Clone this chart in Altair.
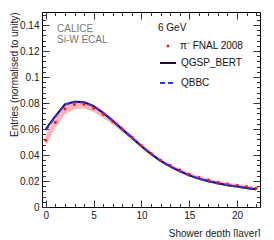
import altair as alt
import pandas as pd

# ---------------- data ----------------
layers = list(range(23))
data_vals = [0.0512, 0.0650, 0.0754, 0.0787, 0.0788, 0.0758, 0.0712, 0.0655,
             0.0600, 0.0538, 0.0472, 0.0412, 0.0360, 0.0320, 0.0286, 0.0252,
             0.0228, 0.0208, 0.0190, 0.0177, 0.0167, 0.0156, 0.0144]
data_err = [0.0040, 0.0040, 0.0040, 0.0035, 0.0030, 0.0028, 0.0025, 0.0022,
            0.0020, 0.0018, 0.0016, 0.0014, 0.0012, 0.0011, 0.0010, 0.0010,
            0.0010, 0.0010, 0.0010, 0.0010, 0.0010, 0.0010, 0.0010]
qgsp_vals = [0.0600, 0.0700, 0.0790, 0.0810, 0.0805, 0.0776, 0.0724, 0.0664,
             0.0596, 0.0532, 0.0468, 0.0408, 0.0355, 0.0312, 0.0276, 0.0243,
             0.0218, 0.0198, 0.0182, 0.0168, 0.0157, 0.0146, 0.0136]
qbbc_vals = [0.0590, 0.0695, 0.0788, 0.0808, 0.0803, 0.0775, 0.0723, 0.0663,
             0.0595, 0.0531, 0.0467, 0.0407, 0.0354, 0.0311, 0.0275, 0.0242,
             0.0217, 0.0197, 0.0181, 0.0167, 0.0156, 0.0145, 0.0134]

x_major = [0, 5, 10, 15, 20]
x_minor = list(range(23))
y_major = [0, 0.02, 0.04, 0.06, 0.08, 0.1, 0.12, 0.14]
y_minor = [0, 0.004, 0.008, 0.012, 0.016, 0.02, 0.024, 0.028, 0.032, 0.036,
           0.04, 0.044, 0.048, 0.052, 0.056, 0.06, 0.064, 0.068, 0.072, 0.076,
           0.08, 0.084, 0.088, 0.092, 0.096, 0.1, 0.104, 0.108, 0.112, 0.116,
           0.12, 0.124, 0.128, 0.132, 0.136, 0.14, 0.144, 0.148]

df = pd.DataFrame({
    "layer": layers,
    "data": data_vals,
    "lo": [v - e for v, e in zip(data_vals, data_err)],
    "hi": [v + e for v, e in zip(data_vals, data_err)],
    "qgsp": qgsp_vals,
    "qbbc": qbbc_vals,
})

FONT = "Liberation Sans"
xs = alt.Scale(domain=[-0.4, 22.4], nice=False, zero=False)
ys = alt.Scale(domain=[0, 0.15], nice=False, zero=False)

common = dict(grid=False, domain=False, tickColor="#333333")

x_lab = alt.Axis(orient="bottom", values=x_major, tickSize={"expr": "-7"},
                 labelPadding=10, labelFontSize=10, labelFont=FONT, labelColor="#222222",
                 labelFlush=False, title="Shower depth [layer]", titleAnchor="end",
                 titleFontSize=10, titleFont=FONT, titleFontWeight="normal",
                 titleColor="#222222", titlePadding=8, **common)
x_min_b = alt.Axis(orient="bottom", values=x_minor, tickSize={"expr": "-3.5"},
                   labels=False, title=None, **common)
x_maj_t = alt.Axis(orient="top", values=x_major, tickSize={"expr": "-7"},
                   labels=False, title=None, **common)
x_min_t = alt.Axis(orient="top", values=x_minor, tickSize={"expr": "-3.5"},
                   labels=False, title=None, **common)

y_lab = alt.Axis(orient="left", values=y_major, tickSize={"expr": "-7"}, format="~g",
                 labelPadding=10, labelFontSize=10, labelFont=FONT, labelColor="#222222",
                 labelFlush=False, title="Entries (normalised to unity)", titleAnchor="end",
                 titleFontSize=10, titleFont=FONT, titleFontWeight="normal",
                 titleColor="#222222", titlePadding=0, **common)
y_min_l = alt.Axis(orient="left", values=y_minor, tickSize={"expr": "-3.5"},
                   labels=False, title=None, **common)
y_maj_r = alt.Axis(orient="right", values=y_major, tickSize={"expr": "-7"},
                   labels=False, title=None, **common)
y_min_r = alt.Axis(orient="right", values=y_minor, tickSize={"expr": "-3.5"},
                   labels=False, title=None, **common)

base = alt.Chart(df)

band = base.mark_area(color="#ff9c9c", opacity=0.75).encode(
    x=alt.X("layer:Q", scale=xs, axis=x_lab),
    y=alt.Y("lo:Q", scale=ys, axis=y_lab),
    y2="hi:Q",
)
qgsp = base.mark_line(color="#1e0b3c", strokeWidth=2).encode(
    x=alt.X("layer:Q", scale=xs, axis=x_maj_t),
    y=alt.Y("qgsp:Q", scale=ys, axis=y_maj_r),
)
qbbc = base.mark_line(color="#3030ff", strokeWidth=2, strokeDash=[5, 3]).encode(
    x=alt.X("layer:Q", scale=xs, axis=x_min_t),
    y=alt.Y("qbbc:Q", scale=ys, axis=y_min_r),
)
points = base.mark_point(filled=True, color="#ff1010", size=8, opacity=1).encode(
    x=alt.X("layer:Q", scale=xs, axis=x_min_b),
    y=alt.Y("data:Q", scale=ys, axis=y_min_l),
)

# ---------------- annotations / legend ----------------
def txt(s, x, y, color="#111111", size=10):
    return alt.Chart(df.head(1)).mark_text(
        align="left", baseline="middle", font=FONT, fontSize=size, color=color
    ).encode(x=alt.value(x), y=alt.value(y), text=alt.value(s))

calice1 = txt("CALICE", 15, 17, color="#777777")
calice2 = txt("Si-W ECAL", 15, 27.5, color="#777777")
gev = txt("6 GeV", 116, 16)
leg_pt = alt.Chart(df.head(1)).mark_point(filled=True, color="#ff1010", size=8, opacity=1).encode(
    x=alt.value(126), y=alt.value(34))
leg_t1 = txt("π⁻ FNAL 2008", 138, 34)
leg_l2 = alt.Chart(df.head(1)).mark_rule(color="#1e0b3c", strokeWidth=2).encode(
    x=alt.value(118), x2=alt.value(134), y=alt.value(51))
leg_t2 = txt("QGSP_BERT", 139, 51)
leg_l3 = alt.Chart(df.head(1)).mark_rule(color="#3030ff", strokeWidth=2, strokeDash=[5, 3]).encode(
    x=alt.value(118), x2=alt.value(134), y=alt.value(71))
leg_t3 = txt("QBBC", 139, 71)

chart = alt.layer(
    band, qgsp, qbbc, points,
    calice1, calice2, gev, leg_pt, leg_t1, leg_l2, leg_t2, leg_l3, leg_t3,
).resolve_scale(x="shared", y="shared").resolve_axis(
    x="independent", y="independent"
).properties(
    width=218, height=195, autosize="none",
    padding={"left": 34, "top": 4, "right": 6, "bottom": 30},
    background="white",
).configure_view(stroke="black", strokeWidth=1)

chart.save("out.html", embed_options={"renderer": "svg", "actions": False})
